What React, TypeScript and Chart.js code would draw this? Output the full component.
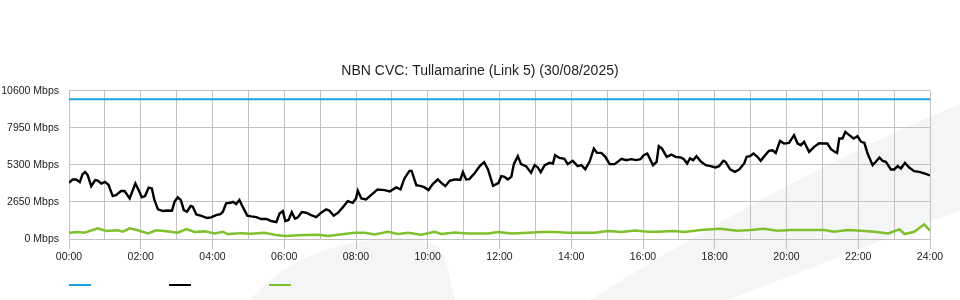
import { useEffect, useRef } from 'react';
import { Chart, registerables } from 'chart.js';

Chart.register(...registerables);

const TITLE = 'NBN CVC: Tullamarine (Link 5) (30/08/2025)';
const yMax = 10600;
const yStep = 2650;
const hourMax = 24;

const capacityTimes = [0, 24];
const capacityValues = [10000, 10000];

const trafficTimes = [
  0, 0.1, 0.2, 0.3, 0.38, 0.45, 0.52, 0.62, 0.73, 0.8, 0.9, 1.0, 1.1, 1.22, 1.31, 1.45, 1.55, 1.69, 1.85, 1.94,
  2.03, 2.12, 2.22, 2.31, 2.38, 2.48, 2.62, 2.76, 2.87, 2.94, 3.03, 3.12, 3.2, 3.29, 3.39, 3.45, 3.55, 3.69, 3.85, 3.96,
  4.1, 4.22, 4.29, 4.38, 4.5, 4.57, 4.66, 4.75, 4.85, 4.97, 5.08, 5.22, 5.36, 5.5, 5.64, 5.78, 5.87, 5.96,
  6.03, 6.12, 6.21, 6.3, 6.38, 6.49, 6.61, 6.75, 6.89, 7.03, 7.17, 7.26, 7.38, 7.5, 7.63, 7.77, 7.91,
  8.0, 8.05, 8.15, 8.28, 8.42, 8.6, 8.8, 8.94, 9.12, 9.24, 9.35, 9.49, 9.55, 9.68, 9.82, 9.91,
  10.02, 10.14, 10.28, 10.38, 10.49, 10.61, 10.75, 10.91, 10.98, 11.07, 11.16, 11.3, 11.45, 11.57, 11.68, 11.82, 11.97,
  12.05, 12.14, 12.23, 12.33, 12.4, 12.51, 12.6, 12.74, 12.88, 12.98, 13.07, 13.15, 13.26, 13.4, 13.49, 13.55, 13.67, 13.81, 13.9,
  14.04, 14.18, 14.28, 14.39, 14.51, 14.63, 14.72, 14.84, 14.95, 15.07, 15.21, 15.4, 15.53, 15.67, 15.81, 15.93,
  16.02, 16.12, 16.28, 16.38, 16.44, 16.53, 16.66, 16.79, 16.91, 17.05, 17.14, 17.23, 17.31, 17.4, 17.49, 17.62, 17.75, 17.88,
  18.02, 18.12, 18.24, 18.3, 18.43, 18.56, 18.68, 18.82, 18.89, 18.98, 19.08, 19.19, 19.28, 19.37, 19.51, 19.61, 19.7, 19.82, 19.93,
  20.07, 20.21, 20.31, 20.4, 20.49, 20.63, 20.77, 20.91, 21.05, 21.14, 21.24, 21.33, 21.41, 21.47, 21.56, 21.64, 21.75, 21.87, 21.98,
  22.08, 22.17, 22.26, 22.4, 22.49, 22.59, 22.68, 22.77, 22.91, 23.0, 23.1, 23.19, 23.3, 23.42, 23.56, 23.7, 23.84, 24.0,
];
const trafficValues = [
  4020, 4260, 4260, 4070, 4640, 4800, 4570, 3780, 4210, 4180, 3970, 4090, 3880, 3070, 3140, 3430, 3430, 2900, 3970, 3500,
  2980, 3070, 3670, 3620, 2790, 2120, 2000, 2040, 2020, 2660, 2980, 2780, 2070, 1950, 2360, 2310, 1760, 1650, 1500, 1550,
  1710, 1780, 1950, 2550, 2590, 2660, 2500, 2790, 2260, 1670, 1620, 1570, 1430, 1430, 1285, 1210, 1830, 2000,
  1285, 1360, 1920, 1450, 1550, 1925, 1880, 1710, 1570, 1880, 2120, 2020, 1665, 1880, 2260, 2710, 2590,
  2900, 3450, 2900, 2830, 3140, 3545, 3500, 3400, 3690, 3545, 4330, 4875, 4875, 3855, 3780, 3690,
  3500, 3925, 4260, 4020, 3780, 4165, 4260, 4240, 4780, 4260, 4285, 4690, 5210, 5500, 4975, 3805, 4000,
  4500, 4450, 4260, 4450, 5355, 5925, 5355, 5210, 4735, 5285, 5115, 4780, 5285, 5450, 5400, 5995, 5800, 5735, 5355,
  5590, 5210, 5285, 4995, 5520, 6470, 6160, 6160, 5875, 5355, 5355, 5735, 5640, 5710, 5640, 5710,
  5990, 6115, 5280, 5520, 6640, 6470, 5875, 6040, 5875, 5830, 5710, 5400, 5760, 5640, 5920, 5520, 5285, 5210,
  5115, 5210, 5590, 5520, 4975, 4805, 4975, 5400, 5875, 5920, 6115, 5875, 5590, 5875, 6305, 6350, 6160, 7015, 6825,
  6875, 7425, 6825, 6710, 6950, 6230, 6590, 6850, 6830, 6830, 6420, 6260, 6160, 7185, 7185, 7660, 7425, 7185, 7350,
  6950, 6880, 6115, 5280, 5520, 5830, 5590, 5520, 4975, 4975, 5210, 5045, 5450, 5115, 4855, 4805, 4690, 4545,
];

const lowTimes = [
  0, 0.25, 0.43, 0.8, 1.04, 1.36, 1.5, 1.69, 1.92, 2.2, 2.43, 2.66, 3.03, 3.27, 3.5, 3.78, 4.06, 4.29, 4.43, 4.8,
  5.08, 5.45, 5.82, 6.06, 6.38, 6.94, 7.22, 7.5, 7.96, 8.24, 8.52, 8.89, 9.17, 9.45, 9.82, 10.19, 10.38, 10.75,
  11.12, 11.68, 11.96, 12.33, 12.8, 13.16, 13.54, 13.9, 14.28, 14.65, 15.02, 15.4, 15.77, 16.14, 16.4, 16.86,
  17.14, 17.6, 18.16, 18.63, 19.0, 19.37, 19.75, 20.12, 20.68, 21.05, 21.33, 21.7, 22.08, 22.45, 22.83, 23.15,
  23.29, 23.56, 23.84, 24.0,
];
const lowValues = [
  450, 500, 450, 760, 570, 620, 520, 760, 620, 400, 620, 570, 450, 710, 500, 545, 400, 520, 350, 420,
  375, 450, 260, 210, 260, 310, 210, 310, 450, 450, 330, 520, 355, 450, 310, 520, 355, 470,
  400, 400, 500, 400, 450, 500, 500, 450, 450, 450, 570, 500, 600, 520, 520, 570,
  495, 640, 735, 590, 640, 735, 590, 640, 640, 640, 520, 640, 590, 520, 400, 685,
  355, 520, 1050, 590,
];

const CAPACITY_COLOR = '#1ba3e0';
const TRAFFIC_COLOR = '#000000';
const LOW_COLOR = '#7fc12d';
const GRID_COLOR = '#c2c2c2';

const pad2 = (n: number) => (n < 10 ? '0' + n : String(n));

const toPoints = (xs: number[], ys: number[]) => xs.map((x, i) => ({ x, y: ys[i] }));

const watermarkPlugin = {
  id: 'watermark',
  beforeDraw(chart: any) {
    const { ctx } = chart;
    ctx.save();
    ctx.fillStyle = '#f4f5f7';
    ctx.beginPath();
    ctx.moveTo(590, 300);
    ctx.quadraticCurveTo(790, 175, 960, 104);
    ctx.lineTo(960, 210);
    ctx.lineTo(728, 300);
    ctx.closePath();
    ctx.fill();
    ctx.beginPath();
    ctx.moveTo(250, 300);
    ctx.quadraticCurveTo(300, 242, 395, 238);
    ctx.quadraticCurveTo(440, 236, 446, 262);
    ctx.lineTo(455, 300);
    ctx.closePath();
    ctx.fill();
    ctx.restore();
  },
};

const swatchLegendPlugin = {
  id: 'swatchLegend',
  afterDraw(chart: any) {
    const { ctx, chartArea } = chart;
    ctx.save();
    chart.data.datasets.forEach((ds: any, i: number) => {
      const x = Math.round(chartArea.left) + i * 100;
      const y = Math.round(chartArea.bottom) + 46;
      ctx.strokeStyle = ds.borderColor;
      ctx.lineWidth = 2;
      ctx.beginPath();
      ctx.moveTo(x, y);
      ctx.lineTo(x + 22, y);
      ctx.stroke();
    });
    ctx.restore();
  },
};

export default function App() {
  const canvasRef = useRef<HTMLCanvasElement | null>(null);

  useEffect(() => {
    document.body.style.margin = '0';
    const canvas = canvasRef.current;
    if (!canvas) return;
    Chart.defaults.font.family = '"Liberation Sans", Arial, Helvetica, sans-serif';
    const chart = new Chart(canvas, {
      type: 'line',
      data: {
        datasets: [
          {
            label: '',
            data: toPoints(capacityTimes, capacityValues),
            borderColor: CAPACITY_COLOR,
            backgroundColor: CAPACITY_COLOR,
            borderWidth: 2,
            pointRadius: 0,
            tension: 0,
          },
          {
            label: '',
            data: toPoints(trafficTimes, trafficValues),
            borderColor: TRAFFIC_COLOR,
            backgroundColor: TRAFFIC_COLOR,
            borderWidth: 2.4,
            pointRadius: 0,
            tension: 0,
          },
          {
            label: '',
            data: toPoints(lowTimes, lowValues),
            borderColor: LOW_COLOR,
            backgroundColor: LOW_COLOR,
            borderWidth: 2.5,
            pointRadius: 0,
            tension: 0,
          },
        ],
      },
      options: {
        responsive: false,
        animation: false,
        events: [],
        layout: { padding: { left: 0, right: 0, top: 0, bottom: 36 } },
        plugins: {
          legend: { display: false },
          tooltip: { enabled: false },
          title: {
            display: true,
            text: TITLE,
            color: '#222',
            font: { size: 14, weight: 'normal' },
            padding: { top: 63, bottom: 11 },
          },
        },
        scales: {
          x: {
            type: 'linear',
            min: 0,
            max: hourMax,
            afterFit(scale: any) {
              scale.height = 25;
            },
            ticks: {
              stepSize: 1,
              autoSkip: false,
              maxRotation: 0,
              padding: 2,
              color: '#222',
              font: { size: 10.5 },
              callback: (v: any) => (Number(v) % 2 === 0 ? pad2(Number(v)) + ':00' : ''),
            },
            grid: {
              color: GRID_COLOR,
              lineWidth: 1,
              tickLength: 10,
              tickColor: (c: any) => (c.tick && c.tick.value % 2 === 0 ? GRID_COLOR : 'rgba(0,0,0,0)'),
            },
            border: { display: true, color: GRID_COLOR },
          },
          y: {
            min: 0,
            max: yMax,
            afterFit(scale: any) {
              scale.width = 69;
            },
            ticks: {
              stepSize: yStep,
              padding: 10,
              color: '#222',
              font: { size: 10.5 },
              callback: (v: any) => v + ' Mbps',
            },
            grid: { color: GRID_COLOR, lineWidth: 1, drawTicks: false },
            border: { display: false },
          },
          spacer: {
            type: 'linear',
            position: 'right',
            min: 0,
            max: 1,
            afterFit(scale: any) {
              scale.width = 30;
            },
            ticks: { display: false },
            grid: { display: false, drawTicks: false },
            border: { display: false },
          },
        },
      },
      plugins: [watermarkPlugin, swatchLegendPlugin],
    });
    return () => chart.destroy();
  }, []);

  return (
    <div style={{ position: 'absolute', left: 0, top: 0, width: 960, height: 300 }}>
      <canvas ref={canvasRef} width={960} height={300} style={{ display: 'block' }} />
    </div>
  );
}
